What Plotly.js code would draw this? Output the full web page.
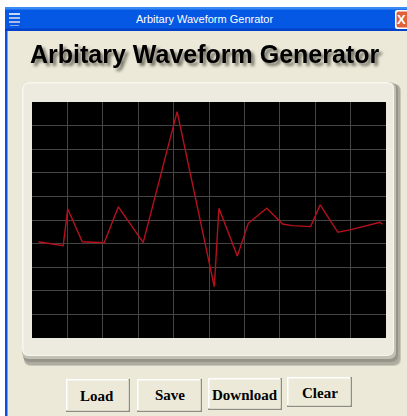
<!DOCTYPE html>
<html><head><meta charset="utf-8">
<script src="https://cdn.plot.ly/plotly-3.0.1.min.js"></script>
<style>
html,body{margin:0;padding:0;background:#fff;overflow:hidden}
#chart g.annotation[data-index="1"] text { filter: drop-shadow(3px 3px 1.5px rgba(50,50,40,0.65)); }
</style>
</head><body><div id="chart" style="width:407px;height:416px"></div>
<script>
// ---- data ----
const sampleTime = [0.18, 0.88, 1.01, 1.42, 2.04, 2.44, 3.14, 4.10, 5.15, 5.28, 5.80, 6.11, 6.63, 7.08, 7.34, 7.87, 8.14, 8.64, 8.98, 9.83, 9.90];
const amplitude  = [4.08, 3.91, 5.47, 4.08, 4.04, 5.56, 4.04, 9.59, 2.17, 5.50, 3.47, 4.86, 5.50, 4.83, 4.76, 4.72, 5.64, 4.48, 4.58, 4.90, 4.82];
const windowTitle = "Arbitary Waveform Genrator";
const heading = "Arbitary Waveform Generator";
const buttonLabels = ["Load", "Save", "Download", "Clear"];

// ---- layout helpers (pixel -> paper) ----
const L = 32, R = 386, T = 102, B = 338;
const PX = x => (x - L) / (R - L);
const PY = y => (B - y) / (B - T);
function rect(x0, y0, x1, y1, fill, extra) {
  return Object.assign({type: 'rect', xref: 'paper', yref: 'paper', layer: 'below',
    x0: PX(x0), x1: PX(x1), y0: PY(y1), y1: PY(y0), fillcolor: fill, line: {width: 0}}, extra || {});
}
function rrect(x0, y0, x1, y1, r, fill) {
  const p = (x, y) => PX(x).toFixed(5) + ',' + PY(y).toFixed(5);
  const d = 'M' + p(x0 + r, y0) + ' L' + p(x1 - r, y0) + ' Q' + p(x1, y0) + ' ' + p(x1, y0 + r) +
    ' L' + p(x1, y1 - r) + ' Q' + p(x1, y1) + ' ' + p(x1 - r, y1) +
    ' L' + p(x0 + r, y1) + ' Q' + p(x0, y1) + ' ' + p(x0, y1 - r) +
    ' L' + p(x0, y0 + r) + ' Q' + p(x0, y0) + ' ' + p(x0 + r, y0) + ' Z';
  return {type: 'path', xref: 'paper', yref: 'paper', layer: 'below', path: d, fillcolor: fill, line: {width: 0}};
}

const shapes = [];
// window edges
shapes.push(rect(0, 0, 407, 7, '#ffffff'));
shapes.push(rect(0, 0, 5, 416, '#ffffff'));
shapes.push(rect(5, 7, 7.5, 416, '#0a50dc'));
// title bar
shapes.push(rect(5, 7, 407, 31, '#0558e4'));
shapes.push(rect(5, 7, 407, 9.5, '#3a8af6'));
shapes.push(rect(5, 28.5, 407, 31, '#0342c8'));
// icon
shapes.push(rect(9, 13, 20, 15, '#c8d8f8'));
shapes.push(rect(9, 17, 20, 19, '#a8c0f0'));
shapes.push(rect(9, 21, 20, 23, '#b0b8e8'));
shapes.push(rect(10, 25, 19, 26, '#8aa8e8'));
// close button
shapes.push(rrect(395, 10, 410, 29, 2.5, '#ffffff'));
shapes.push(rrect(396.5, 11.5, 410, 27.5, 2, '#e0603c'));
// panel shadow + panel
shapes.push(rrect(24, 84, 401, 366, 7, '#c9c7ba'));
shapes.push(rrect(24, 84, 400, 365, 7, '#aeac9f'));
shapes.push(rrect(23, 83, 398, 362, 7, '#96948a'));
shapes.push(rrect(22, 82, 396, 359, 7, '#c2c0b2'));
shapes.push(rrect(22, 82, 394, 356, 7, '#f7f6ef'));
shapes.push(rrect(23.5, 83.5, 393, 355, 6, '#edebdf'));
// black screen
shapes.push(rect(L, T, R, B, '#000000'));
// buttons
const btn = [[66, 379, 130, 412], [137, 379, 202, 412], [208, 378, 282, 410], [287, 377, 352, 407]];
btn.forEach(b => {
  shapes.push(rect(b[0], b[1], b[2], b[3], '#8f8d82'));
  shapes.push(rect(b[0], b[1], b[2] - 1.5, b[3] - 1.5, '#ffffff'));
  shapes.push(rect(b[0] + 1.5, b[1] + 1.5, b[2] - 1.5, b[3] - 1.5, '#ece9d8'));
});

const annotations = [];
annotations.push({xref: 'paper', yref: 'paper', x: PX(204), y: PY(19), text: windowTitle, showarrow: false,
  xanchor: 'center', yanchor: 'middle', font: {family: '"Liberation Sans", Arial', size: 11, color: '#ffffff'}});
// heading (drop shadow added with CSS)
annotations.push({xref: 'paper', yref: 'paper', x: PX(204), y: PY(54), text: '<b>' + heading + '</b>', showarrow: false,
  xanchor: 'center', yanchor: 'middle', font: {family: '"Liberation Sans", Arial', size: 25, color: '#000000'}});
annotations.push({xref: 'paper', yref: 'paper', x: PX(401.5), y: PY(19.5), text: '<b>X</b>', showarrow: false,
  xanchor: 'center', yanchor: 'middle', font: {family: '"Liberation Sans", Arial', size: 13, color: '#ffffff'}});
// button labels
const labelPos = [[97, 396], [170, 395], [245, 395], [320, 393]];
buttonLabels.forEach((t, i) => {
  annotations.push({xref: 'paper', yref: 'paper', x: PX(labelPos[i][0]), y: PY(labelPos[i][1]), text: '<b>' + t + '</b>',
    showarrow: false, xanchor: 'center', yanchor: 'middle',
    font: {family: '"Liberation Serif", "Times New Roman", serif', size: 15, color: '#000000'}});
});

const trace = {x: sampleTime, y: amplitude, type: 'scatter', mode: 'lines',
  line: {color: '#b5101e', width: 1.4}, hoverinfo: 'skip'};

const axisCommon = {range: [0, 10], dtick: 1, tick0: 0, showgrid: true, gridcolor: '#444444', gridwidth: 1,
  zeroline: false, showticklabels: false, ticks: '', showline: false, fixedrange: true};

const layout = {
  width: 407, height: 416,
  margin: {l: L, r: 407 - R, t: T, b: 416 - B, pad: 0},
  paper_bgcolor: '#ece9d8', plot_bgcolor: '#000000',
  showlegend: false,
  xaxis: Object.assign({}, axisCommon),
  yaxis: Object.assign({}, axisCommon),
  shapes: shapes, annotations: annotations
};

Plotly.newPlot('chart', [trace], layout, {displayModeBar: false, staticPlot: true});
</script>
</body></html>
